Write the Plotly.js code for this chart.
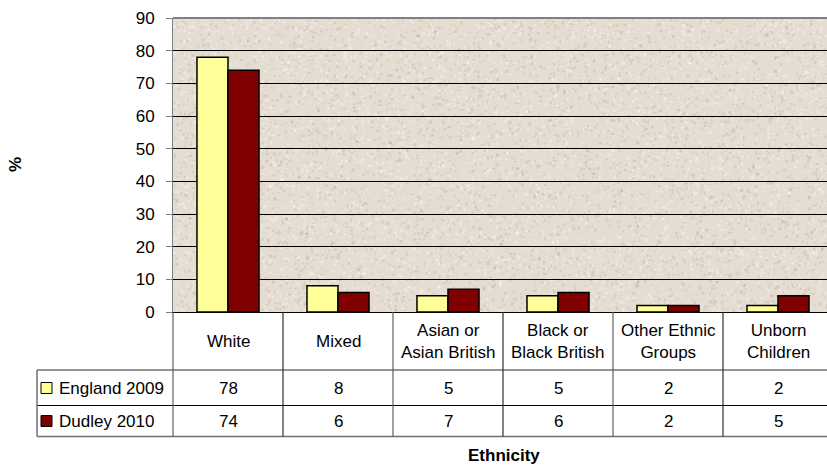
<!DOCTYPE html>
<html><head><meta charset="utf-8">
<script src="https://cdn.plot.ly/plotly-3.0.1.min.js"></script>
<style>html,body{margin:0;padding:0;background:#fff}#chart{width:827px;height:465px}</style>
</head><body><div id="chart"></div>
<script>
// ---- data ----
const categories = ['White', 'Mixed', 'Asian or<br>Asian British', 'Black or<br>Black British', 'Other Ethnic<br>Groups', 'Unborn<br>Children'];
const seriesNames = ['England 2009', 'Dudley 2010'];
const england2009 = [78, 8, 5, 5, 2, 2];
const dudley2010 = [74, 6, 7, 6, 2, 5];
const seriesColors = ['#FFFF99', '#800000'];
const yTicks = [0, 10, 20, 30, 40, 50, 60, 70, 80, 90];
const xTitle = 'Ethnicity';
const yTitle = '%';

// ---- layout geometry (pixels) ----
const W = 827, H = 465, L = 173, T = 18, B = 312;
const plotW = W - L, plotH = B - T;
const catW = 110;
const xRange = [-0.5, -0.5 + plotW / catW];
const px = v => (v - L) / plotW;          // pixel x -> paper
const py = v => (B - v) / plotH;          // pixel y -> paper
const catPaper = i => (i - 0.5 - xRange[0]) / (xRange[1] - xRange[0]); // boundary left of category i
const FONT = 'Liberation Sans, Arial, sans-serif';
const FS = 17;

// subtle paper texture for the plot area (decorative, deterministic)
function textureURL() {
  const c = document.createElement('canvas'); c.width = plotW; c.height = plotH;
  const g = c.getContext('2d');
  g.fillStyle = '#E5DDD2'; g.fillRect(0, 0, plotW, plotH);
  let s = 12345;
  const rnd = () => { s = (s * 1103515245 + 12345) & 0x7fffffff; return s / 0x7fffffff; };
  for (let k = 0; k < 9000; k++) {
    const x = rnd() * plotW, y = rnd() * plotH, d = rnd();
    g.fillStyle = d < 0.5 ? 'rgba(150,130,110,0.18)' : 'rgba(255,255,250,0.35)';
    g.fillRect(x, y, 1 + rnd() * 2, 1 + rnd() * 2);
  }
  return c.toDataURL();
}

const allSeries = [england2009, dudley2010];
const traces = allSeries.map((vals, s) => ({
  type: 'bar', x: categories, y: vals, name: seriesNames[s],
  marker: {color: seriesColors[s], line: {color: '#000', width: 1.5}},
  hoverinfo: 'x+y+name'
}));

const rowTop = 370, row1Bot = 405.5, row2Bot = 436.5, legLeft = 37;
const shapes = [];
// top border of plot area
shapes.push({type: 'line', xref: 'paper', yref: 'paper', x0: 0, x1: 1, y0: 1, y1: 1, line: {color: '#808080', width: 2}});
// horizontal table lines
[rowTop, row1Bot, row2Bot].forEach((y, k) => shapes.push({type: 'line', xref: 'paper', yref: 'paper',
  x0: px(legLeft), x1: 1, y0: py(y), y1: py(y), line: {color: k === 1 ? '#000' : '#707070', width: k === 1 ? 1 : 1.5}}));
// vertical table lines at category boundaries
categories.forEach((c, i) => shapes.push({type: 'line', xref: 'paper', yref: 'paper',
  x0: catPaper(i), x1: catPaper(i), y0: 0, y1: py(row2Bot), line: {color: i % 2 ? '#303030' : '#606060', width: 1.2}}));
// legend column left border
shapes.push({type: 'line', xref: 'paper', yref: 'paper', x0: px(legLeft), x1: px(legLeft), y0: py(rowTop), y1: py(row2Bot), line: {color: '#707070', width: 1.5}});
// legend keys
const rowCenters = [388, 421];
seriesNames.forEach((n, s) => shapes.push({type: 'rect', xref: 'paper', yref: 'paper',
  x0: px(41), x1: px(52), y0: py(rowCenters[s] - 5.5), y1: py(rowCenters[s] + 5.5),
  fillcolor: seriesColors[s], line: {color: '#000', width: 1}}));

const annotations = [];
categories.forEach((c, i) => annotations.push({xref: 'x', yref: 'paper', x: c, y: py(341), text: c,
  showarrow: false, xanchor: 'center', yanchor: 'middle', font: {family: FONT, size: FS, color: '#000'}}));
allSeries.forEach((vals, s) => {
  vals.forEach((v, i) => annotations.push({xref: 'x', yref: 'paper', x: categories[i], y: py(rowCenters[s]), text: String(v),
    showarrow: false, xanchor: 'center', yanchor: 'middle', font: {family: FONT, size: FS, color: '#000'}}));
  annotations.push({xref: 'paper', yref: 'paper', x: px(57), y: py(rowCenters[s]), text: seriesNames[s],
    showarrow: false, xanchor: 'left', yanchor: 'middle', font: {family: FONT, size: FS, color: '#000'}});
});
annotations.push({xref: 'paper', yref: 'paper', x: px(15), y: 0.5, text: '<b>' + yTitle + '</b>', textangle: -90,
  showarrow: false, xanchor: 'center', yanchor: 'middle', font: {family: FONT, size: FS, color: '#000'}});
annotations.push({xref: 'paper', yref: 'paper', x: px(504), y: py(455), text: '<b>' + xTitle + '</b>',
  showarrow: false, xanchor: 'center', yanchor: 'middle', font: {family: FONT, size: FS, color: '#000'}});

const layout = {
  width: W, height: H,
  margin: {l: L, r: 0, t: T, b: H - B, pad: 0},
  paper_bgcolor: '#fff', plot_bgcolor: 'rgba(0,0,0,0)',
  showlegend: false,
  barmode: 'group', bargap: 0.436, bargroupgap: 0,
  font: {family: FONT, size: FS, color: '#000'},
  images: [{source: textureURL(), xref: 'paper', yref: 'paper', x: 0, y: 1, sizex: 1, sizey: 1,
    sizing: 'stretch', xanchor: 'left', yanchor: 'top', layer: 'below'}],
  xaxis: {type: 'category', range: xRange, showticklabels: false, ticks: '', showgrid: false,
    showline: true, linecolor: '#000', linewidth: 1, zeroline: false, fixedrange: true},
  yaxis: {range: [0, 90], tickvals: yTicks, ticks: 'outside', ticklen: 6, tickcolor: '#808080', tickwidth: 1,
    showline: true, linecolor: '#808080', linewidth: 1, showgrid: true, gridcolor: '#000', gridwidth: 1,
    zeroline: false, tickfont: {family: FONT, size: FS, color: '#000'}, ticklabelstandoff: 8, fixedrange: true},
  shapes: shapes, annotations: annotations
};
Plotly.newPlot('chart', traces, layout, {displayModeBar: false, staticPlot: true});
</script></body></html>
